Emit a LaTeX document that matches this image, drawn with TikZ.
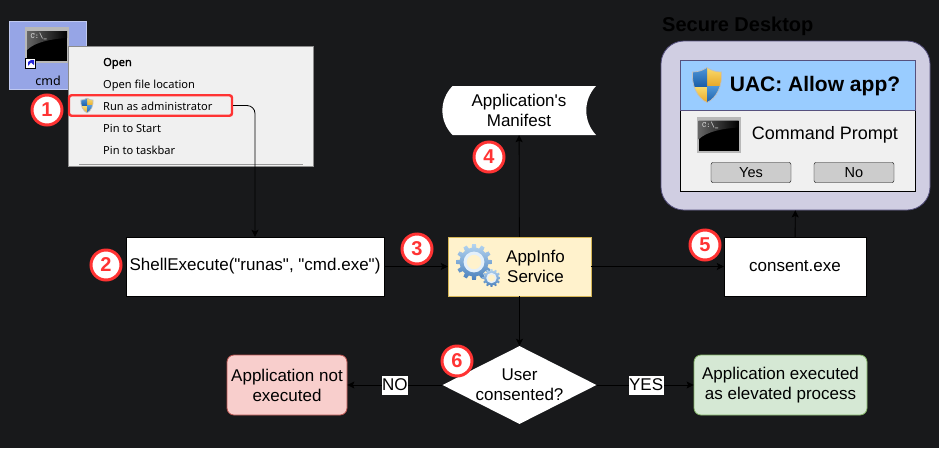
\documentclass[tikz,border=0pt]{standalone}
\usepackage{fontspec}
\setmainfont[Ligatures=TeXOff]{Liberation Sans}
\newfontfamily\menufont{Noto Sans}
\newfontfamily\menubold[FakeBold=1.5]{Noto Sans}
\usetikzlibrary{shapes.geometric, arrows.meta}

\definecolor{bgdark}{HTML}{18191B}
\definecolor{badgered}{HTML}{FF3333}
\definecolor{panelfill}{HTML}{D0CEE2}
\definecolor{paneldraw}{HTML}{56517E}
\definecolor{headblue}{HTML}{99CCFF}
\definecolor{dialoggrey}{HTML}{F0F0F0}
\definecolor{selectblue}{HTML}{96A5E6}
\definecolor{servicefill}{HTML}{FFF2CC}
\definecolor{servicedraw}{HTML}{D6B656}
\definecolor{refusedfill}{HTML}{F8CECC}
\definecolor{refuseddraw}{HTML}{B85450}
\definecolor{elevatedfill}{HTML}{D5E8D4}
\definecolor{elevateddraw}{HTML}{82B366}
\definecolor{shieldbluetop}{HTML}{4F97DA}
\definecolor{shieldbluelow}{HTML}{1C5FA8}
\definecolor{shieldgoldtop}{HTML}{F9DC70}
\definecolor{shieldgoldlow}{HTML}{E8A828}
\definecolor{gearlight}{HTML}{B4D4F0}
\definecolor{geardark}{HTML}{4A80BC}
\definecolor{gearring}{HTML}{E4F0FA}

\tikzset{
  shieldicon/.pic = {
    \begin{scope}[scale=#1]
      \begin{scope}
        \path[clip] (0,-17.5) .. controls (5,-14) and (10,-13) .. (14.5,-13)
          .. controls (15.5,0) and (10,13) .. (0,17.5)
          .. controls (-10,13) and (-15.5,0) .. (-14.5,-13)
          .. controls (-10,-13) and (-5,-14) .. (0,-17.5) -- cycle;
        \shade[top color=shieldgoldtop, bottom color=shieldgoldlow] (0,-18) rectangle (16,1);
        \shade[top color=shieldgoldtop, bottom color=shieldgoldlow] (-16,1) rectangle (0,18);
        \shade[top color=shieldbluetop, bottom color=shieldbluelow] (-16,-18) rectangle (0,1);
        \shade[top color=shieldbluetop, bottom color=shieldbluelow] (0,1) rectangle (16,18);
      \end{scope}
      \draw[black!25, line width=0.7pt] (0,-17.5) .. controls (5,-14) and (10,-13) .. (14.5,-13)
        .. controls (15.5,0) and (10,13) .. (0,17.5)
        .. controls (-10,13) and (-15.5,0) .. (-14.5,-13)
        .. controls (-10,-13) and (-5,-14) .. (0,-17.5) -- cycle;
    \end{scope}
  },
  termicon/.pic = {
    \fill[color=black!28] (-22,-18) rectangle (22,18);
    \fill[black] (-20,-14) rectangle (20,16);
    \shade[left color=black!60, right color=black] (-20,-14) -- (20,-14) -- (20,-7)
      .. controls (4,-6) and (-12,-3) .. (-20,5) -- cycle;
    \node[text=white!85!black, font=\ttfamily\bfseries\fontsize{8}{8}\selectfont] (-name) at (-8,-9) {C:\textbackslash\_};
  },
  gearicon/.pic = {
    \path[top color=gearlight, bottom color=geardark] (-9:#1*0.8)
      \foreach \a in {0,30,...,330} {
        -- (\a-9:#1*0.8) -- (\a-6:#1) -- (\a+6:#1) -- (\a+9:#1*0.8) -- (\a+21:#1*0.8)
      } -- cycle;
    \fill[gearring] (0,0) circle (#1*0.58);
    \fill[servicefill] (0,0) circle (#1*0.4);
  }
}

\begin{document}
\begin{tikzpicture}
  [
    x                 = 1pt,
    y                 = -1pt,
    every node/.style = {font=\fontsize{17}{20}\selectfont, align=center, text=black, inner sep=0pt},
    connector/.style  = {draw=black, line width=0.8pt, -{Stealth[length=7pt, width=7pt, inset=1.5pt]}},
    flowbox/.style    = {draw=black, fill=white, minimum height=59, minimum width=#1},
    outcome/.style    = {draw=#1, line width=0.8pt, rounded corners=7, minimum height=60},
    decision/.style   = {diamond, fill=white, minimum width=154, minimum height=78},
    badge/.style      = {circle, draw=badgered, fill=white, line width=3pt, minimum size=30,
                         text=badgered, font=\bfseries\fontsize{20}{20}\selectfont},
    menuitem/.style   = {anchor=base west, font=\menufont\fontsize{11.1}{13}\selectfont},
    button/.style     = {draw=black, fill=black!20, rounded corners=2, minimum width=80,
                         minimum height=20, font=\fontsize{14.5}{16}\selectfont},
    edgelabel/.style  = {fill=white, minimum height=19, inner xsep=0.5pt}
  ]
  \fill[bgdark] (0,0) rectangle (939,448);

  % context menu
  \node[draw=selectblue!60!white, fill=selectblue, minimum width=77, minimum height=68] (selection) at (48,55) {};
  \pic at (47,45) {termicon};
  \node[draw=black, fill=white, minimum size=10] (shortcut) at (30.5,63) {};
  \fill[color=blue!70!gray] (28,66) -- (28,62) -- (31,60) -- (34,60) -- (34,65) -- (31,62.5) -- cycle;
  \node[font=\menufont\fontsize{12.5}{14}\selectfont] (cmdlabel) at (48,81) {cmd};
  \node[draw=black!45, fill=dialoggrey, minimum width=245, minimum height=120] (menu) at (190.5,106) {};
  \node[menuitem, font=\menubold\fontsize{11.1}{13}\selectfont] (menuopen) at (103,66) {Open};
  \node[menuitem] (menulocation) at (103,88) {Open file location};
  \node[menuitem] (menurun) at (103,110) {Run as administrator};
  \node[menuitem] (menustart) at (103,132) {Pin to Start};
  \node[menuitem] (menutaskbar) at (103,154) {Pin to taskbar};
  \draw[black!40] (79,164.5) -- (303,164.5);
  \pic at (87,105.5) {shieldicon=0.42};
  \node[draw=badgered, line width=2.4pt, rounded corners=2.5, minimum width=163, minimum height=20.5] (runas) at (150.5,105.5) {};

  % main flow
  \node[flowbox=258] (shell) at (255,266.5) {ShellExecute("runas", "cmd.exe")};
  \node[flowbox=143, draw=servicedraw, fill=servicefill] (appinfo) at (519.5,266.5) {};
  \pic at (474,262) {gearicon=18};
  \pic at (491.5,278) {gearicon=9};
  \node (appinfolabel) at (535.5,266.5) {AppInfo\\Service};
  \fill[white] (452.5,86) -- (596,86) .. controls (583,100) and (583,121) .. (596,135)
    -- (452.5,135) .. controls (439,121) and (439,100) .. (452.5,86) -- cycle;
  \node[minimum width=154, minimum height=49] (manifest) at (519,110.5) {Application's\\Manifest};
  \node[flowbox=142] (consent) at (795,266.5) {consent.exe};

  % secure desktop
  \node[font=\bfseries\fontsize{20}{24}\selectfont, anchor=west] (securelabel) at (662,26) {Secure Desktop};
  \node[draw=paneldraw, line width=0.8pt, fill=panelfill, rounded corners=23, minimum width=269, minimum height=169] (desktop) at (795.5,125.5) {};
  \node[draw=black, line width=0.8pt, fill=dialoggrey, minimum width=235, minimum height=131] (dialog) at (797.5,125.5) {};
  \node[draw=paneldraw, fill=headblue, line width=0.5pt, minimum width=235, minimum height=50] (header) at (797.5,85) {};
  \pic at (707,85) {shieldicon=1};
  \node[font=\bfseries\fontsize{21}{24}\selectfont] (uactitle) at (815,86) {UAC: Allow app?};
  \pic at (718.5,134.5) {termicon};
  \node[font=\fontsize{18}{22}\selectfont] (prompt) at (825,135) {Command Prompt};
  \node[button] (yes) at (751,172.5) {Yes};
  \node[button] (no) at (854,172.5) {No};

  % decision
  \node[decision] (decide) at (519.5,385) {};
  \node (decidelabel) at (519.5,385) {User\\consented?};
  \node[outcome=refuseddraw, fill=refusedfill, minimum width=120] (refused) at (287,385) {Application not\\executed};
  \node[outcome=elevateddraw, fill=elevatedfill, minimum width=173] (elevated) at (780.5,385) {Application executed\\as elevated process};

  \draw[connector, rounded corners=8] (runas.east) -| (shell.north);
  \draw[connector] (shell) -- (appinfo);
  \draw[connector] (appinfo) -- (manifest);
  \draw[connector] (appinfo) -- (consent);
  \draw[connector] (consent) -- (desktop);
  \draw[connector] (appinfo) -- (decide);
  \draw[connector] (decide) -- node[edgelabel, pos=0.5] (nolabel) {NO} (refused);
  \draw[connector] (decide) -- node[edgelabel, pos=0.51] (yeslabel) {YES} (elevated);

  % step badges
  \node[badge] (stepone) at (47,110) {1};
  \node[badge] (steptwo) at (106,265) {2};
  \node[badge] (stepthree) at (417,249) {3};
  \node[badge] (stepfour) at (489,157) {4};
  \node[badge] (stepfive) at (705,245) {5};
  \node[badge] (stepsix) at (457,361) {6};
\end{tikzpicture}
\end{document}
